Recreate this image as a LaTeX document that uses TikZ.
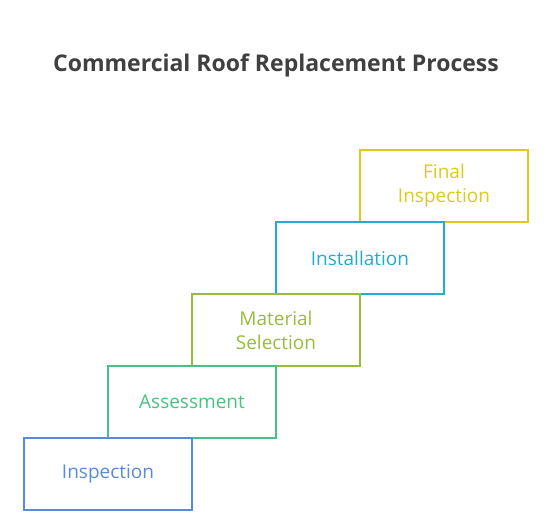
\documentclass[tikz,border=0pt]{standalone}
\usepackage{fontspec}
\setmainfont{Open Sans}
\usepackage{tikz}
\definecolor{inspblue}{HTML}{5B8AD8}
\definecolor{assgreen}{HTML}{48C283}
\definecolor{matolive}{HTML}{98BC3C}
\definecolor{instcyan}{HTML}{22ADCC}
\definecolor{finyellow}{HTML}{DCCB1E}
\definecolor{titlegray}{HTML}{404040}

\begin{document}
\begin{tikzpicture}[x=1pt,y=-1pt]
\tikzstyle{stepbox}=[draw,fill=white,line width=1.6pt,minimum width=168pt,minimum height=72pt,inner sep=0pt,align=center,font=\fontsize{19}{24}\selectfont];
\useasboundingbox (0,0) rectangle (552,513);
\node [font=\bfseries\fontsize{23}{27}\selectfont,text=titlegray](title) at (276,65) {Commercial Roof Replacement Process};
% the higher steps first, so the lower ones lie over them
\node [stepbox,draw=finyellow,text=finyellow](s5) at (444,186) {Final\\Inspection};
\node [stepbox,draw=instcyan,text=instcyan](s4) at (360,258) {Installation};
\node [stepbox,draw=matolive,text=matolive](s3) at (276,330) {Material\\Selection};
\node [stepbox,draw=assgreen,text=assgreen](s2) at (192,402) {Assessment};
\node [stepbox,draw=inspblue,text=inspblue](s1) at (108,474) {Inspection};
\end{tikzpicture}
\end{document}
